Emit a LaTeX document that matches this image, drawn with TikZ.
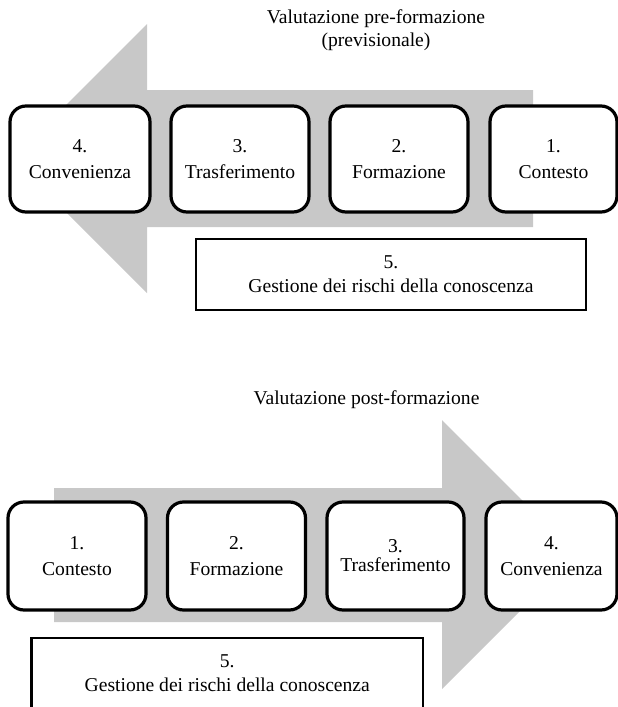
\documentclass[tikz,border=0pt]{standalone}
\usepackage{fontspec}
\setmainfont{Liberation Serif}
\definecolor{arrowgray}{RGB}{200,200,200}
\begin{document}
\begin{tikzpicture}[x=1pt,y=-1pt,
  stepbox/.style={draw=black, line width=3.2pt, rounded corners=16pt, fill=white, align=center, inner sep=0pt, font=\fontsize{19.6}{26}\selectfont},
  riskbox/.style={draw=black, line width=2.2pt, fill=white, align=center, inner sep=0pt, minimum width=390pt, minimum height=71pt, font=\fontsize{19.6}{24}\selectfont},
  titletext/.style={align=center, inner sep=0pt, font=\fontsize{19.6}{23}\selectfont},
  bigarrow/.style={fill=arrowgray, draw=none}]
\useasboundingbox (0,0) rectangle (618,707);
\clip (0,0) rectangle (618,707);

% ---------- top diagram ----------
\node[titletext] (ttitle) at (376,30.5) {Valutazione pre-formazione\\(previsionale)};
\fill[bigarrow] (533,90) -- (147,90) -- (147,24) -- (12.5,158.5) -- (147,293) -- (147,227) -- (533,227) -- cycle;
\node[stepbox, minimum width=140pt, minimum height=106pt] (t4) at (80,159) {4.\\Convenienza};
\node[stepbox, minimum width=138pt, minimum height=106pt] (t3) at (240,159) {3.\\Trasferimento};
\node[stepbox, minimum width=138pt, minimum height=106pt] (t2) at (399,159) {2.\\Formazione};
\node[stepbox, minimum width=127pt, minimum height=106pt] (t1) at (553.5,159) {1.\\Contesto};
\node[riskbox] (t5) at (391,274.5) {5.\\Gestione dei rischi della conoscenza};

% ---------- bottom diagram ----------
\node[titletext] (btitle) at (366.5,400) {Valutazione post-formazione};
\fill[bigarrow] (54,488) -- (442,488) -- (442,420) -- (576.5,554.5) -- (442,689) -- (442,622) -- (54,622) -- cycle;
\node[stepbox, minimum width=138pt, minimum height=108pt] (b1) at (77,556) {1.\\Contesto};
\node[stepbox, minimum width=138pt, minimum height=108pt] (b2) at (236.5,556) {2.\\Formazione};
\node[stepbox, minimum width=137pt, minimum height=108pt, font=\fontsize{19.6}{19}\selectfont] (b3) at (395.5,556) {3.\\Trasferimento};
\node[stepbox, minimum width=131pt, minimum height=108pt] (b4) at (551.5,556) {4.\\Convenienza};
\node[riskbox, minimum width=391.5pt] (b5) at (227.25,673.5) {5.\\Gestione dei rischi della conoscenza};
\end{tikzpicture}
\end{document}
